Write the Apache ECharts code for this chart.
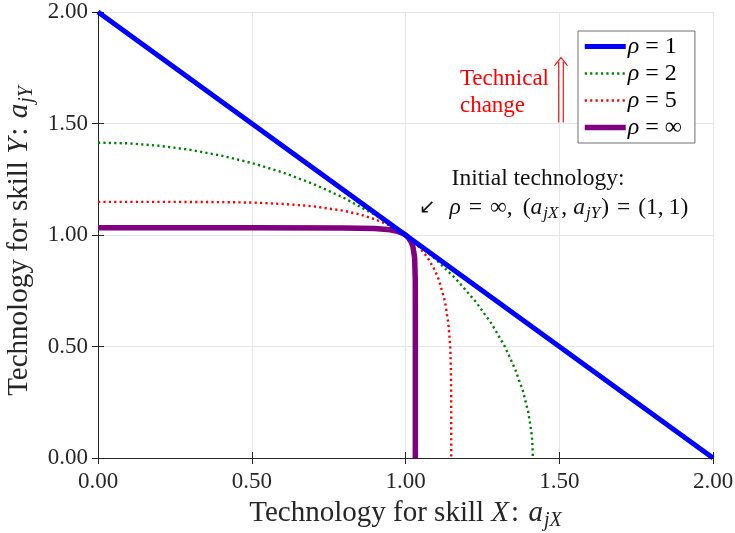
<!DOCTYPE html>
<html>
<head>
<meta charset="utf-8">
<script src="https://cdn.jsdelivr.net/npm/echarts@6/dist/echarts.min.js"></script>
<style>
  html, body { margin: 0; padding: 0; background: #ffffff; overflow: hidden; }
  #chart { width: 735px; height: 533px; }
</style>
</head>
<body>
<div id="chart"></div>
<script>
// Isoquant-style technology frontiers for different substitution parameters rho.
const seriesNames = ['ρ = 1', 'ρ = 2', 'ρ = 5', 'ρ = ∞'];
const legendValues = ['1', '2', '5', '∞'];

// rho = 1 : straight frontier
const rho1X = [0, 0.5, 1.0, 1.5, 2.0];
const rho1Y = [2, 1.5, 1.0, 0.5, 0];

// rho = 2
const rho2X = [0, 0.1, 0.2, 0.3, 0.4, 0.5, 0.6, 0.7, 0.8, 0.9, 0.95, 1.0,
               1.048, 1.091, 1.166, 1.229, 1.281, 1.323, 1.356, 1.382, 1.400, 1.411, 1.4133, 1.414];
const rho2Y = [1.414, 1.411, 1.400, 1.382, 1.356, 1.323, 1.281, 1.229, 1.166, 1.091, 1.048, 1.0,
               0.95, 0.9, 0.8, 0.7, 0.6, 0.5, 0.4, 0.3, 0.2, 0.1, 0.05, 0];

// rho = 5
const rho5X = [0, 0.2, 0.4, 0.5, 0.6, 0.7, 0.8, 0.85, 0.9, 0.95, 1.0,
               1.0416, 1.0711, 1.0925, 1.1083, 1.1287, 1.1396, 1.1455, 1.1475, 1.1484, 1.1487, 1.1487];
const rho5Y = [1.1487, 1.1487, 1.1475, 1.1455, 1.1396, 1.1287, 1.1083, 1.0925, 1.0711, 1.0416, 1.0,
               0.95, 0.9, 0.85, 0.8, 0.7, 0.6, 0.5, 0.4, 0.3, 0.2, 0];

// rho -> infinity (drawn as a nearly Leontief corner)
const rhoInfX = [0, 0.5, 0.8, 0.9, 0.95, 0.97, 0.99, 1.0,
                 1.0083, 1.0182, 1.0238, 1.0296, 1.0318, 1.032, 1.032];
const rhoInfY = [1.032, 1.032, 1.0318, 1.0296, 1.0238, 1.0182, 1.0083, 1.0,
                 0.99, 0.97, 0.95, 0.9, 0.8, 0.5, 0];

const xTicks = [0, 0.5, 1.0, 1.5, 2.0];
const yTicks = [0, 0.5, 1.0, 1.5, 2.0];

const seriesColors = ['#0000ff', '#008000', '#ff0000', '#800080'];
const seriesWidths = [5, 2.4, 2.4, 5.5];
const dotted = [2.2, 3.2];
const seriesDash = ['solid', dotted, dotted, 'solid'];

const pairs = (xs, ys) => xs.map((x, i) => [x, ys[i]]);

const FONT = '"Liberation Serif", "DejaVu Serif", serif';
const INK = '#262626';

const chart = echarts.init(document.getElementById('chart'), null, { renderer: 'canvas' });

function mathRich(pad) {
  return {
    it: { fontFamily: FONT, fontStyle: 'italic', fontSize: 29, color: INK },
    rm: { fontFamily: FONT, fontSize: 29, color: INK },
    gap: { fontFamily: FONT, fontSize: 29, color: INK, padding: [0, 6, 0, 2] },
    sub: { fontFamily: FONT, fontStyle: 'italic', fontSize: 20, color: INK, padding: [15, pad, 0, 1] }
  };
}

const baseAxis = {
  type: 'value',
  min: 0,
  max: 2,
  interval: 0.5,
  axisLine: { show: true, lineStyle: { color: INK, width: 1 } },
  axisTick: { show: true, inside: true, length: 6, lineStyle: { color: INK, width: 1 } },
  splitLine: { show: true, lineStyle: { color: '#e6e6e6', width: 1 } }
};

const option = {
  animation: false,
  backgroundColor: '#ffffff',
  grid: { left: 98, top: 12, width: 615, height: 446, containLabel: false, outerBoundsMode: 'none' },
  xAxis: [
    Object.assign({}, baseAxis, {
      position: 'bottom',
      axisLabel: {
        fontFamily: FONT, fontSize: 23, color: INK, margin: 12,
        formatter: v => xTicks.includes(v) ? v.toFixed(2) : ''
      },
      name: '{rm|Technology for skill }{it|X}{gap|:} {it|a}{sub|jX}',
      nameLocation: 'middle',
      nameGap: 38,
      nameTextStyle: { rich: mathRich(0) }
    }),
    Object.assign({}, baseAxis, {
      position: 'top',
      axisLabel: { show: false },
      splitLine: { show: false }
    })
  ],
  yAxis: [
    Object.assign({}, baseAxis, {
      position: 'left',
      axisLabel: {
        fontFamily: FONT, fontSize: 23, color: INK, margin: 10,
        formatter: v => yTicks.includes(v) ? v.toFixed(2) : ''
      },
      name: '{rm|Technology for skill }{it|Y}{gap|:} {it|a}{sub|jY}',
      nameLocation: 'middle',
      nameRotate: 90,
      nameGap: 59,
      nameTextStyle: { rich: mathRich(12) }
    }),
    Object.assign({}, baseAxis, {
      position: 'right',
      axisLabel: { show: false },
      splitLine: { show: false }
    })
  ],
  legend: {
    orient: 'vertical',
    left: 578,
    top: 31,
    padding: [3, 13, 3, 4],
    itemGap: 2,
    itemWidth: 41,
    itemHeight: 20,
    backgroundColor: '#ffffff',
    borderColor: '#707070',
    borderWidth: 1,
    itemStyle: { opacity: 0 },
    data: seriesNames.map((n, i) => ({
      name: n,
      lineStyle: { width: seriesWidths[i], type: seriesDash[i], color: seriesColors[i] }
    })),
    formatter: name => '{it|ρ}{eq|=}{rm|' + legendValues[seriesNames.indexOf(name)] + '}',
    textStyle: {
      padding: [0, 0, 0, -3],
      lineHeight: 25,
      rich: {
        it: { fontFamily: FONT, fontStyle: 'italic', fontSize: 24, color: '#000', lineHeight: 25 },
        eq: { fontFamily: FONT, fontSize: 24, color: '#000', padding: [0, 6, 0, 6], lineHeight: 25 },
        rm: { fontFamily: FONT, fontSize: 24, color: '#000', lineHeight: 25 }
      }
    }
  },
  series: [
    {
      name: seriesNames[0], type: 'line', data: pairs(rho1X, rho1Y),
      symbol: 'none', showSymbol: false, clip: false, z: 5,
      lineStyle: { color: seriesColors[0], width: seriesWidths[0] }, itemStyle: { color: seriesColors[0] }
    },
    {
      name: seriesNames[1], type: 'line', data: pairs(rho2X, rho2Y),
      symbol: 'none', showSymbol: false, z: 3,
      lineStyle: { color: seriesColors[1], width: seriesWidths[1], type: seriesDash[1] }, itemStyle: { color: seriesColors[1] }
    },
    {
      name: seriesNames[2], type: 'line', data: pairs(rho5X, rho5Y),
      symbol: 'none', showSymbol: false, z: 3,
      lineStyle: { color: seriesColors[2], width: seriesWidths[2], type: seriesDash[2] }, itemStyle: { color: seriesColors[2] }
    },
    {
      name: seriesNames[3], type: 'line', data: pairs(rhoInfX, rhoInfY),
      symbol: 'none', showSymbol: false, z: 4,
      lineStyle: { color: seriesColors[3], width: seriesWidths[3] }, itemStyle: { color: seriesColors[3] }
    }
  ]
};

chart.setOption(option);

// Annotations placed in data coordinates
function px(x, y) { return chart.convertToPixel({ gridIndex: 0 }, [x, y]); }

function addAnnotations() {
  const arrowBase = px(1.5057, 1.505);
  const arrowTop = px(1.5057, 1.795);
  const ax = arrowBase[0];
  const techPos = px(1.177, 1.76);
  const initPos = px(1.431, 1.252);
  const initPos2 = px(1.043, 1.122);

  chart.setOption({
    graphic: [
      {
        type: 'text', x: techPos[0], y: techPos[1], z: 10,
        style: {
          text: 'Technical\nchange', fill: '#ff0000', font: '23px ' + FONT,
          lineHeight: 27, align: 'left', verticalAlign: 'top'
        }
      },
      // double-shafted upward arrow
      {
        type: 'group', z: 10,
        children: [
          { type: 'line', shape: { x1: ax - 2.3, y1: arrowBase[1], x2: ax - 2.3, y2: arrowTop[1] + 4 },
            style: { stroke: '#ff0000', lineWidth: 1.1 } },
          { type: 'line', shape: { x1: ax + 2.3, y1: arrowBase[1], x2: ax + 2.3, y2: arrowTop[1] + 4 },
            style: { stroke: '#ff0000', lineWidth: 1.1 } },
          { type: 'polyline', shape: { points: [[ax - 6.5, arrowTop[1] + 8], [ax, arrowTop[1]], [ax + 6.5, arrowTop[1] + 8]] },
            style: { stroke: '#ff0000', lineWidth: 1.1, fill: 'none' } }
        ]
      },
      {
        type: 'text', z: 10,
        x: initPos[0], y: initPos[1],
        style: {
          text: 'Initial technology:', fill: '#111', font: '23.5px ' + FONT,
          align: 'center', verticalAlign: 'middle'
        }
      },
      {
        type: 'text', z: 10,
        x: initPos2[0], y: initPos2[1],
        style: {
          text: '{ar|↙}{it|ρ}{eq|=}{rm|∞,}{sp|(}{it|a}{sub|jX}{cm|,}{it|a}{sub|jY}{rm|)}{eq|=}{rm|(1,}{sp2|1)}',
          align: 'left', verticalAlign: 'middle',
          rich: {
            ar: { fontFamily: '"DejaVu Sans", sans-serif', fontSize: 20, fill: '#111', padding: [0, 14, 0, 0] },
            it: { fontFamily: FONT, fontStyle: 'italic', fontSize: 23.5, fill: '#111' },
            rm: { fontFamily: FONT, fontSize: 23.5, fill: '#111' },
            sp: { fontFamily: FONT, fontSize: 23.5, fill: '#111', padding: [0, 0, 0, 10] },
            sp2: { fontFamily: FONT, fontSize: 23.5, fill: '#111', padding: [0, 0, 0, 5] },
            cm: { fontFamily: FONT, fontSize: 23.5, fill: '#111', padding: [0, 6, 0, 2] },
            eq: { fontFamily: FONT, fontSize: 23.5, fill: '#111', padding: [0, 8, 0, 8] },
            sub: { fontFamily: FONT, fontStyle: 'italic', fontSize: 17, fill: '#111', padding: [11, 1, 0, 1] }
          }
        }
      }
    ]
  });
}
addAnnotations();
</script>
</body>
</html>
